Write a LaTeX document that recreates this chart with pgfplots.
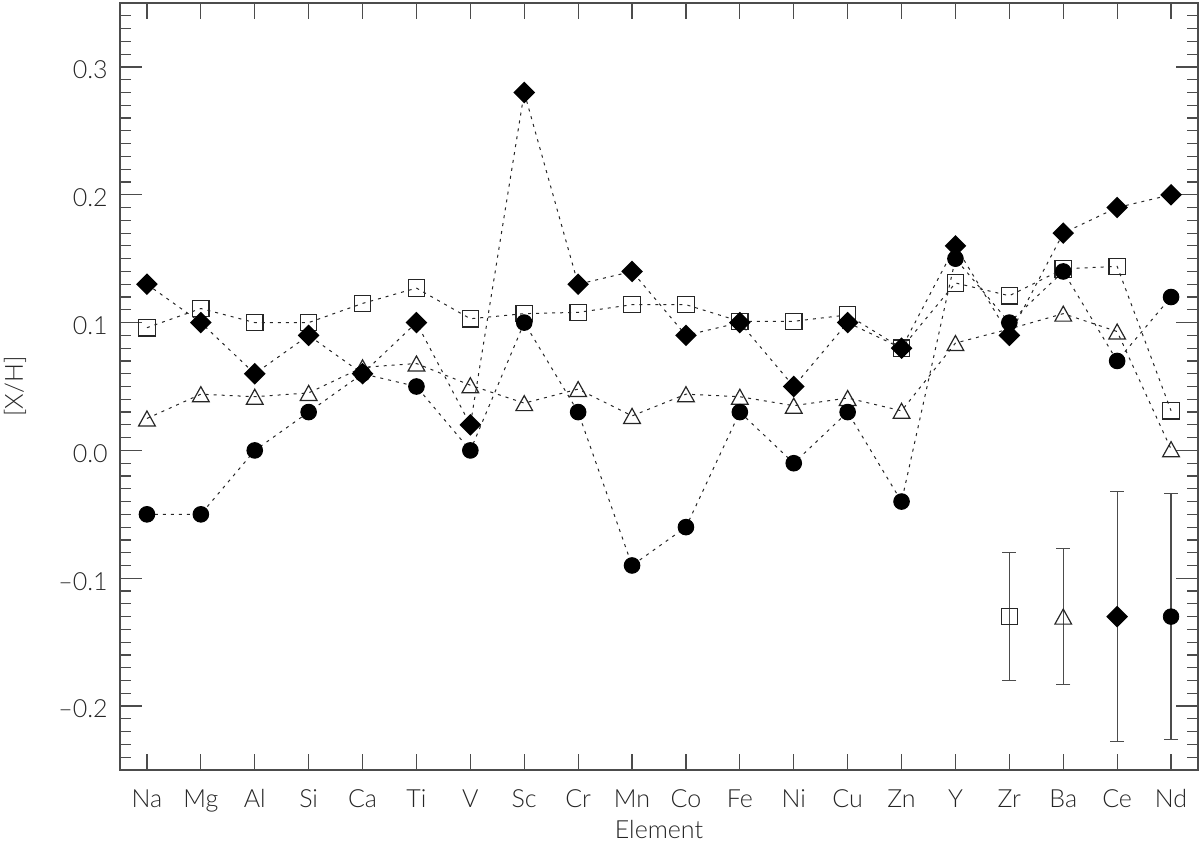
\documentclass[border=0pt]{standalone}
\usepackage{pgfplots}
\pgfplotsset{compat=1.18}
\usepackage{fontspec}
\setmainfont{Lato Light}
\definecolor{axc}{rgb}{0.30,0.30,0.30}
\definecolor{txc}{rgb}{0.15,0.15,0.15}

% IDL-like marks: triangle centred on its box, square diamond
\pgfdeclareplotmark{idltri}{%
  \pgfpathmoveto{\pgfqpoint{0pt}{0.9\pgfplotmarksize}}%
  \pgfpathlineto{\pgfqpoint{\pgfplotmarksize}{-0.9\pgfplotmarksize}}%
  \pgfpathlineto{\pgfqpoint{-\pgfplotmarksize}{-0.9\pgfplotmarksize}}%
  \pgfpathclose\pgfusepathqstroke}
\pgfdeclareplotmark{idldia}{%
  \pgfpathmoveto{\pgfqpoint{0pt}{\pgfplotmarksize}}%
  \pgfpathlineto{\pgfqpoint{\pgfplotmarksize}{0pt}}%
  \pgfpathlineto{\pgfqpoint{0pt}{-\pgfplotmarksize}}%
  \pgfpathlineto{\pgfqpoint{-\pgfplotmarksize}{0pt}}%
  \pgfpathclose\pgfusepathqfill}

\pgfplotstableread{
x  sq     tri    circ   dia
0  0.096  0.025 -0.05   0.13
1  0.111  0.044 -0.05   0.10
2  0.100  0.042  0.00   0.06
3  0.100  0.045  0.03   0.09
4  0.115  0.065  0.06   0.06
5  0.127  0.068  0.05   0.10
6  0.103  0.051  0.00   0.02
7  0.107  0.037  0.10   0.28
8  0.108  0.048  0.03   0.13
9  0.114  0.027 -0.09   0.14
10 0.114  0.044 -0.06   0.09
11 0.101  0.042  0.03   0.10
12 0.101  0.035 -0.01   0.05
13 0.106  0.041  0.03   0.10
14 0.080  0.031 -0.04   0.08
15 0.131  0.084  0.15   0.16
16 0.121  0.095  0.10   0.09
17 0.142  0.107  0.14   0.17
18 0.144  0.093  0.07   0.19
19 0.031  0.001  0.12   0.20
}\abund

\pgfplotsset{
  ser/.style={black!85, line width=0.5pt, dash pattern=on 1.5pt off 2.5pt},
  ebar/.style={only marks,
    error bars/y dir=both, error bars/y explicit,
    error bars/error bar style={draw=axc, line width=0.6pt, solid},
    error bars/error mark options={rotate=90, draw=axc, mark size=3.5pt,
                                   line width=0.6pt}},
}

\begin{document}
\begin{tikzpicture}
\begin{axis}[
  scale only axis,
  width=539pt, height=383.5pt,
  xmin=-0.5, xmax=19.5,
  ymin=-0.25, ymax=0.35,
  xtick={0,...,19},
  xticklabels={Na,Mg,Al,Si,Ca,Ti,V,Sc,Cr,Mn,Co,Fe,Ni,Cu,Zn,Y,Zr,Ba,Ce,Nd},
  xtick style={draw=none},
  ytick={-0.2,-0.1,0,0.1,0.2,0.3},
  yticklabels={--0.2,--0.1,0.0,0.1,0.2,0.3},
  minor ytick={-0.25,-0.24,...,0.35},
  major tick length=10.8pt,
  minor tick length=5.4pt,
  tick align=inside,
  axis line style={axc, line width=0.8pt},
  ytick style={axc, line width=0.6pt},
  ticklabel style={font=\fontsize{12.5}{14}\selectfont, text=txc},
  xticklabel style={anchor=base, yshift=-18.65pt},
  yticklabel style={anchor=east, inner sep=0pt, xshift=-6pt, yshift=-1.5pt},
  xlabel={Element},
  xlabel style={at={(axis description cs:0.5,-0.089)}, anchor=base,
                font=\fontsize{12.5}{14}\selectfont, text=txc},
  ylabel={[X/H]},
  ylabel style={at={(axis description cs:-0.0974,0.5)}, anchor=center,
                font=\fontsize{12.5}{14}\selectfont, text=txc},
  clip=false,
]
\addplot[ser, mark=square, mark size=4.1pt,
  mark options={solid, black!85, line width=0.6pt}]
  table[x=x, y=sq] {\abund};
\addplot[ser, mark=idltri, mark size=4.17pt,
  mark options={solid, black!85, line width=0.6pt}]
  table[x=x, y=tri] {\abund};
\addplot[ser, mark=*, mark size=3.9pt,
  mark options={solid, black, fill=black}]
  table[x=x, y=circ] {\abund};
\addplot[ser, mark=idldia, mark size=5.4pt,
  mark options={solid, black, fill=black}]
  table[x=x, y=dia] {\abund};

% typical error bars
\addplot[ebar, mark=square, mark size=4.1pt,
  mark options={black!85, line width=0.6pt}]
  coordinates {(16,-0.13) +- (0,0.050)};
\addplot[ebar, mark=idltri, mark size=4.17pt,
  mark options={black!85, line width=0.6pt}]
  coordinates {(17,-0.13) +- (0,0.053)};
\addplot[ebar, mark=idldia, mark size=5.4pt,
  mark options={black, fill=black}]
  coordinates {(18,-0.13) +- (0,0.098)};
\addplot[ebar, mark=*, mark size=3.9pt,
  mark options={black, fill=black}]
  coordinates {(19,-0.13) +- (0,0.096)};
\end{axis}

% second axis only for the shorter x ticks
\begin{axis}[
  scale only axis,
  width=539pt, height=383.5pt,
  xmin=-0.5, xmax=19.5,
  ymin=-0.25, ymax=0.35,
  xtick={0,...,19}, xticklabels={},
  ytick=\empty,
  major tick length=8pt,
  tick align=inside,
  axis line style={draw=none},
  xtick style={axc, line width=0.6pt},
]
\end{axis}

\pgfresetboundingbox
\path[use as bounding box] (-60pt,-36.5pt) rectangle (540pt,385pt);
\end{tikzpicture}
\end{document}
